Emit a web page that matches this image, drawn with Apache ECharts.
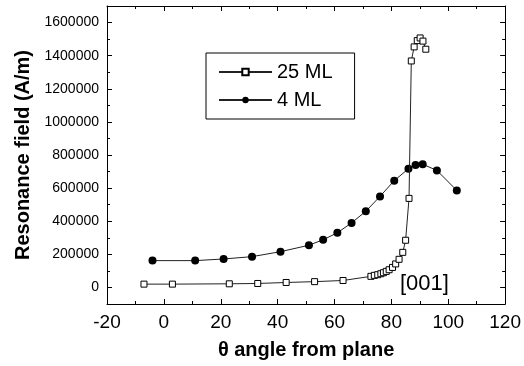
<!DOCTYPE html>
<html>
<head>
<meta charset="utf-8">
<script src="https://cdn.jsdelivr.net/npm/echarts@6/dist/echarts.min.js"></script>
<style>
  html, body { margin: 0; padding: 0; background: #fff; }
  #chart { width: 524px; height: 366px; }
</style>
</head>
<body>
<div id="chart"></div>
<script>
// 25 ML film (open squares)
const ml25X = [-7, 3, 23, 33, 43, 53, 63, 72.8, 74, 75.2, 76.3, 77.2, 78.2, 79.2, 80.4, 81.5, 82.7, 84, 85, 86.2, 87, 88, 89.1, 90.1, 91.1, 92.1];
const ml25Y = [20000, 20000, 22000, 24000, 30000, 35000, 42000, 67000, 73000, 77000, 83000, 89000, 97000, 107000, 121000, 142000, 170000, 212000, 285000, 538000, 1368000, 1453000, 1491000, 1507000, 1488000, 1439000];

// 4 ML film (filled circles)
const ml4X = [-4, 11, 21, 31, 41, 51, 56, 61, 66, 71, 76, 81, 86, 88.5, 91, 96, 103];
const ml4Y = [162000, 162000, 172000, 186000, 216000, 255000, 288000, 330000, 390000, 460000, 550000, 645000, 717000, 740000, 744000, 707000, 586000];

// axis ticks
const yMajor = [0, 200000, 400000, 600000, 800000, 1000000, 1200000, 1400000, 1600000];
const yMinor = [-100000, 100000, 300000, 500000, 700000, 900000, 1100000, 1300000, 1500000, 1700000];

const FONT = 'Liberation Sans';
const chart = echarts.init(document.getElementById('chart'));

const pairs = (xs, ys) => xs.map((x, i) => [x, ys[i]]);

const xBase = {
  type: 'value', min: -20, max: 120, interval: 20,
  axisLine: { show: true, onZero: false, lineStyle: { color: '#000', width: 1 } },
  axisTick: { inside: true, length: 5, lineStyle: { color: '#000' } },
  minorTick: { show: true, splitNumber: 2, length: 3, lineStyle: { color: '#000' } },
  splitLine: { show: false }
};
const yBase = {
  type: 'value', min: -100000, max: 1700000, interval: 100000,
  axisLine: { show: true, onZero: false, lineStyle: { color: '#000', width: 1 } },
  splitLine: { show: false }
};

chart.setOption({
  animation: false,
  grid: { left: 107, right: 15, top: 6, bottom: 62 },
  xAxis: [
    Object.assign({}, xBase, {
      position: 'bottom',
      name: 'θ angle from plane', nameLocation: 'middle', nameGap: 36,
      nameTextStyle: { fontFamily: FONT, fontSize: 20, fontWeight: 'bold', color: '#000' },
      axisLabel: { fontFamily: FONT, fontSize: 19, color: '#000', margin: 9 }
    }),
    Object.assign({}, xBase, { position: 'top', axisLabel: { show: false } })
  ],
  yAxis: [
    Object.assign({}, yBase, {
      position: 'left',
      name: 'Resonance field (A/m)', nameLocation: 'middle', nameGap: 74,
      nameTextStyle: { fontFamily: FONT, fontSize: 20, fontWeight: 'bold', color: '#000' },
      axisTick: { inside: true, length: 5, customValues: yMajor, lineStyle: { color: '#000' } },
      axisLabel: { fontFamily: FONT, fontSize: 14, color: '#000', margin: 8,
                   customValues: yMajor, formatter: (v) => String(v) }
    }),
    Object.assign({}, yBase, {
      position: 'right',
      axisTick: { inside: true, length: 5, customValues: yMajor, lineStyle: { color: '#000' } },
      axisLabel: { show: false }
    }),
    Object.assign({}, yBase, {
      position: 'left', axisLine: { show: false, onZero: false },
      axisTick: { inside: true, length: 3, customValues: yMinor, lineStyle: { color: '#000' } },
      axisLabel: { show: false }
    }),
    Object.assign({}, yBase, {
      position: 'right', axisLine: { show: false, onZero: false },
      axisTick: { inside: true, length: 3, customValues: yMinor, lineStyle: { color: '#000' } },
      axisLabel: { show: false }
    })
  ],
  legend: {
    orient: 'vertical', left: 206, top: 53,
    padding: [9, 22, 9, 12], itemGap: 8,
    itemWidth: 53, itemHeight: 8,
    borderColor: '#000', borderWidth: 1,
    textStyle: { fontFamily: FONT, fontSize: 20, color: '#000' },
    data: ['25 ML', '4 ML']
  },
  series: [
    {
      name: '25 ML', type: 'line', data: pairs(ml25X, ml25Y),
      symbol: 'rect', symbolSize: 6, showAllSymbol: true,
      lineStyle: { color: '#222', width: 1 },
      itemStyle: { color: '#fff', borderColor: '#000', borderWidth: 1 },
      z: 3
    },
    {
      name: '4 ML', type: 'line', data: pairs(ml4X, ml4Y),
      symbol: 'circle', symbolSize: 8, showAllSymbol: true,
      lineStyle: { color: '#222', width: 1 },
      itemStyle: { color: '#000' },
      z: 2
    }
  ],
  graphic: [
    { type: 'text', left: 400, top: 273,
      style: { text: '[001]', fontFamily: FONT, fontSize: 22, fill: '#000' } }
  ]
});
</script>
</body>
</html>
